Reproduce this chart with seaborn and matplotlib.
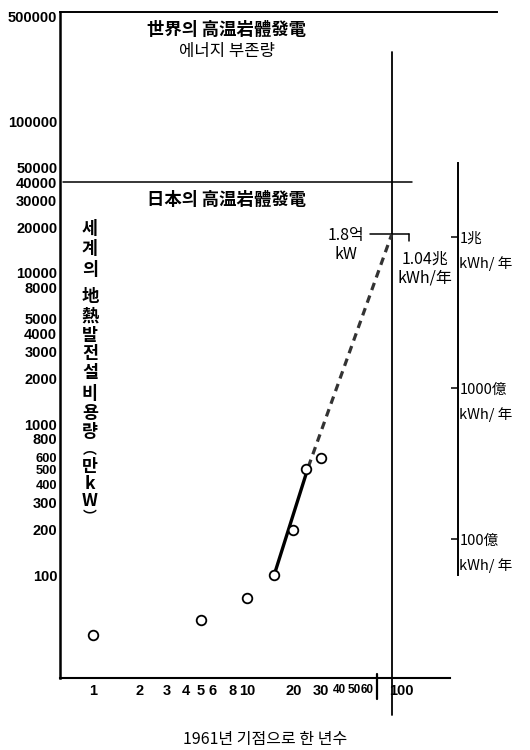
import matplotlib
matplotlib.use("Agg")
import matplotlib.pyplot as plt
from matplotlib import font_manager
import seaborn as sns
import numpy as np
import pandas as pd

# ---- data -------------------------------------------------------------
# world geothermal generating capacity (unit: 10^4 kW) by years since 1961
years = [1, 5, 10, 15, 20, 24, 30]
capacity = [40, 50, 70, 100, 200, 500, 600]

# fitted growth (solid) and projection (dashed)
trend_years = [15, 25]
trend_vals = [100, 520]
proj_years = [25, 87]
proj_vals = [520, 18000]

# reference levels
world_hdr_level = 500000      # world hot-dry-rock reserve (top line)
japan_hdr_level = 40000       # Japan hot-dry-rock level
target_year = 88              # vertical marker
target_capacity = 18000       # 1.8억 kW

y_ticks = [100, 200, 300, 400, 500, 600, 800, 1000, 2000, 3000, 4000, 5000,
           8000, 10000, 20000, 30000, 40000, 50000, 100000, 500000]
y_minor = [700, 6000, 7000]
x_ticks = [1, 2, 3, 4, 5, 6, 8, 10, 20, 30, 40, 50, 60, 100]
x_minor = [70, 80]

# annual energy scale: 1.8억 kW  ->  1.04兆 kWh/年
energy_per_unit = 1.04e12 / 18000
energy_ticks = [1e10, 1e11, 1e12]
energy_labels = ["100億", "1000億", "1兆"]
energy_unit = "kWh/ 年"

# ---- style ------------------------------------------------------------
sns.set_theme(style="white")
plt.rcParams["font.family"] = ["Noto Sans CJK KR", "DejaVu Sans"]
plt.rcParams["text.color"] = "black"
plt.rcParams["axes.labelcolor"] = "black"
plt.rcParams["xtick.color"] = "black"
plt.rcParams["ytick.color"] = "black"

installed = {f.name for f in font_manager.fontManager.ttflist}
num_family = ("Liberation Sans Narrow" if "Liberation Sans Narrow" in installed
              else "Liberation Sans")

fig = plt.figure(figsize=(5.3, 7.5), dpi=100)
ax = fig.add_axes([60 / 530, 1 - 678 / 750, 437 / 530, 666 / 750])
ax.set_xscale("log")
ax.set_yscale("log")
ax.set_xlim(0.61, 420)
ax.set_ylim(20.8, 535000)

pts = pd.DataFrame({"year": years, "capacity": capacity})
trend = pd.DataFrame({"year": trend_years, "capacity": trend_vals})
proj = pd.DataFrame({"year": proj_years, "capacity": proj_vals})

sns.lineplot(data=trend, x="year", y="capacity", ax=ax, color="black",
             lw=2.4, estimator=None, sort=False, zorder=3)
sns.lineplot(data=proj, x="year", y="capacity", ax=ax, color="#333333",
             lw=2.3, estimator=None, sort=False, linestyle=(0, (2.4, 1.8)),
             zorder=3)
sns.scatterplot(data=pts, x="year", y="capacity", ax=ax, marker="o", s=48,
                facecolor="white", edgecolor="black", linewidth=1.3, zorder=4)

# ---- spines / ticks ---------------------------------------------------
ax.spines["right"].set_visible(False)
for side in ["left", "bottom", "top"]:
    ax.spines[side].set_color("black")
ax.spines["left"].set_linewidth(1.8)
ax.spines["bottom"].set_linewidth(1.5)
ax.spines["top"].set_linewidth(1.4)
ax.spines["bottom"].set_bounds(0.61, 208)

ax.set_yticks(y_ticks, labels=[str(v) for v in y_ticks])
ax.set_yticks(y_minor, minor=True)
ax.set_xticks(x_ticks, labels=[str(v) for v in x_ticks])
ax.set_xticks(x_minor, minor=True)
ax.tick_params(axis="y", which="both", direction="in", length=5, width=1.2,
               pad=2)
ax.tick_params(axis="x", which="both", direction="in", length=5, width=1.0,
               pad=4)
for lab in ax.get_yticklabels():
    lab.set_fontfamily(num_family)
    lab.set_fontweight("bold")
    lab.set_fontsize(9.3 if lab.get_text() in ("400", "500", "600") else 10.5)
for lab in ax.get_xticklabels():
    lab.set_fontfamily(num_family)
    lab.set_fontweight("bold")
    lab.set_fontsize(10.5 if lab.get_text() not in ("40", "50", "60") else 8.5)
ax.xaxis.set_tick_params(top=False)

ax.set_xlabel("1961년 기점으로 한 년수", fontsize=11.5)
ax.xaxis.set_label_coords(0.469, -0.08)
ax.set_ylabel("")

# ---- reference lines --------------------------------------------------
ax.plot([0.64, 118], [japan_hdr_level] * 2, color="black", lw=1.1)
ax.plot([target_year] * 2, [291000, 11.8], color="black", lw=1.3,
        clip_on=False)
ax.plot([70, 70], [22, 15], color="black", lw=1.6, clip_on=False)
ax.plot([63, 113], [target_capacity] * 2, color="black", lw=1.1)
ax.plot([113, 113], [target_capacity, 16300], color="black", lw=1.1)

# ---- annual energy scale ----------------------------------------------
sec = ax.secondary_yaxis(
    (458 - 60) / 437,
    functions=(lambda c: np.asarray(c) * energy_per_unit,
               lambda e: np.asarray(e) / energy_per_unit))
sec.spines["right"].set_linewidth(1.4)
sec.spines["right"].set_color("black")
sec.spines["right"].set_bounds(5.8e9, 3.1e12)
sec.set_yticks(energy_ticks, labels=energy_labels)
sec.set_yticks([v * 0.683 for v in energy_ticks],
               labels=[energy_unit] * len(energy_ticks), minor=True)
sec.tick_params(which="major", direction="in", length=5, width=1.1, pad=1,
                labelsize=10.5)
sec.tick_params(which="minor", length=0, pad=1, labelsize=10.5)

# ---- annotations ------------------------------------------------------
ax.text(0.382, 0.973, "世界의 高温岩體發電", transform=ax.transAxes,
        ha="center", va="center", fontsize=12.5, fontweight="bold")
ax.text(0.382, 0.940, "에너지 부존량", transform=ax.transAxes,
        ha="center", va="center", fontsize=12)
ax.text(0.382, 0.718, "日本의 高温岩體發電", transform=ax.transAxes,
        ha="center", va="center", fontsize=12.5, fontweight="bold")
ax.text(44, 15300, "1.8억\nkW", ha="center", va="center", fontsize=11.5,
        linespacing=1.15)
ax.text(0.835, 0.615, "1.04兆\nkWh/年", transform=ax.transAxes,
        ha="center", va="center", fontsize=11.5, linespacing=1.15)

# stacked vertical axis title
title_chars = [("세", 229), ("계", 249), ("의", 270), ("地", 297),
               ("熱", 317), ("발", 336), ("전", 354), ("설", 373),
               ("비", 394), ("용", 413), ("량", 432), ("︵", 450),
               ("만", 467), ("k", 484), ("W", 501), ("︶", 517)]
for ch, ypx in title_chars:
    size = 10 if ch in ("︵", "︶") else 12.5
    ax.text(0.0686, (678 - ypx) / 666, ch, transform=ax.transAxes,
            ha="center", va="center", fontsize=size, fontweight="bold")

fig.savefig("out.png", dpi=100)
